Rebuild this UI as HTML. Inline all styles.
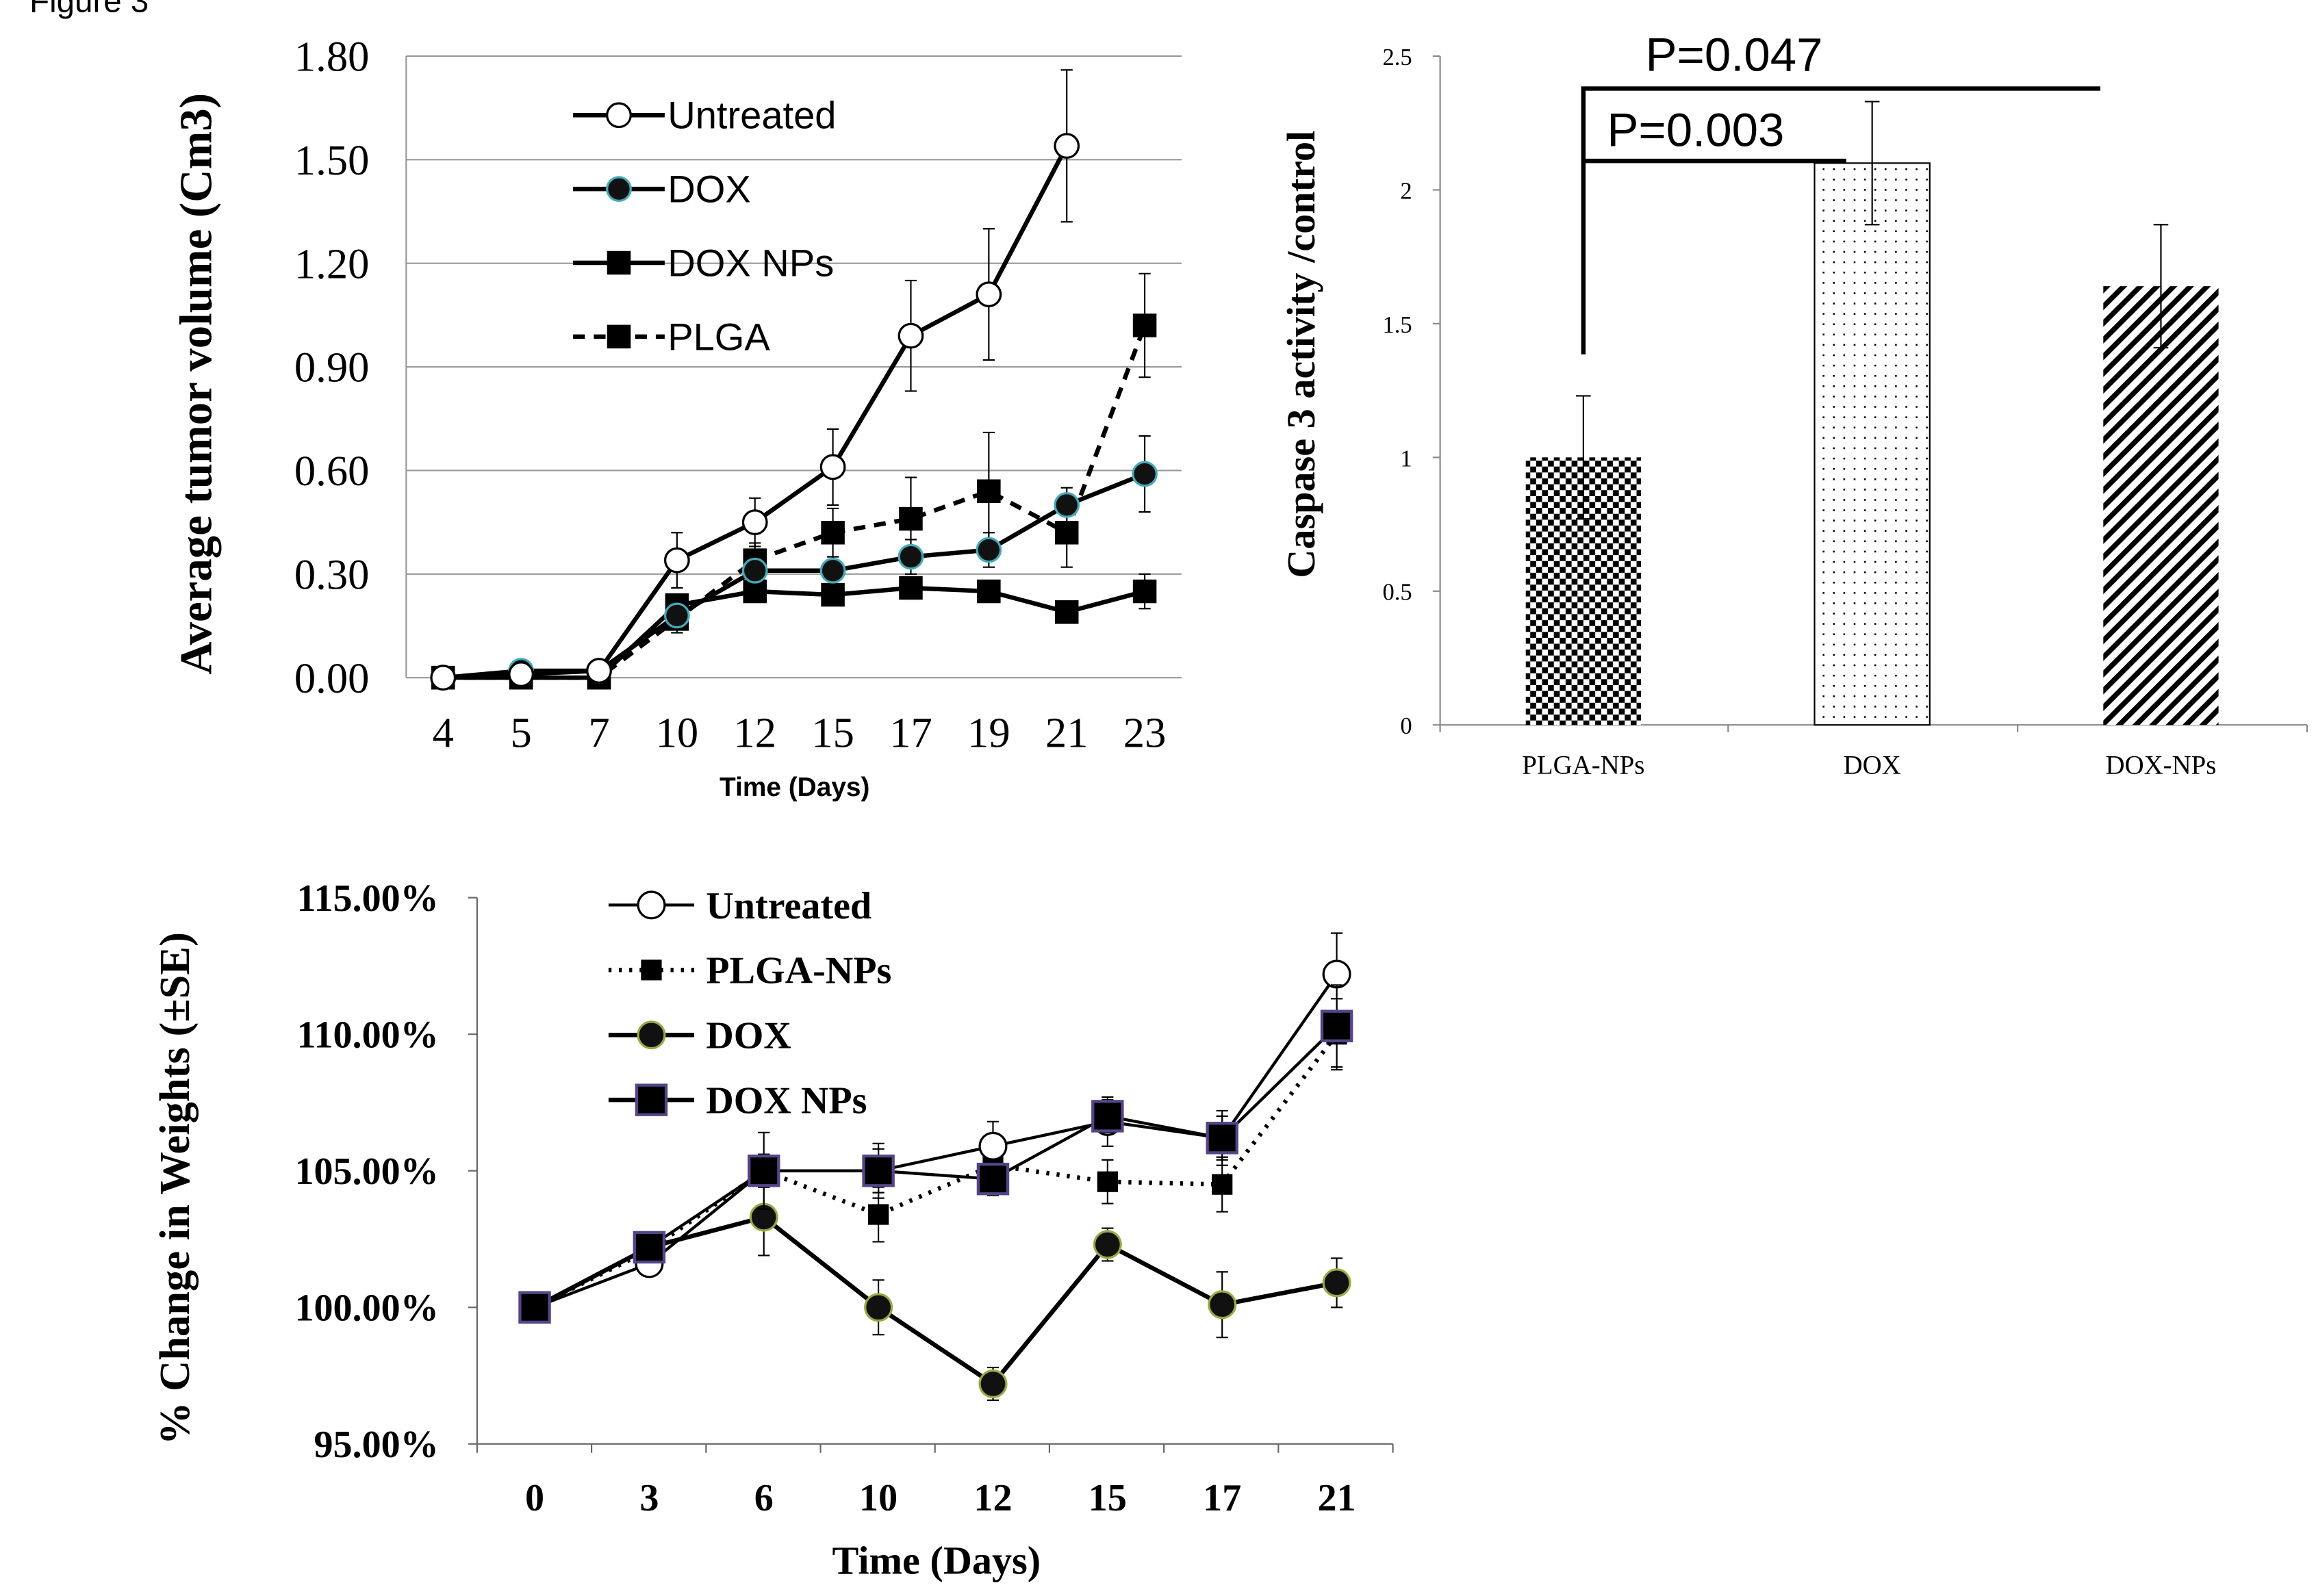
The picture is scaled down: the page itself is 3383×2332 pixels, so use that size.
<!DOCTYPE html>
<html><head><meta charset="utf-8"><style>html,body{margin:0;padding:0;background:#fff}svg{display:block}</style></head>
<body>
<svg id="fig" width="3383" height="2332" viewBox="0 0 1568 1081" preserveAspectRatio="none" xmlns="http://www.w3.org/2000/svg" font-family="Liberation Serif, serif">
<defs>
<pattern id="checker" width="8" height="8" patternUnits="userSpaceOnUse"><rect width="8" height="8" fill="#fff"/><rect width="4" height="4" fill="#000"/><rect x="4" y="4" width="4" height="4" fill="#000"/></pattern>
<pattern id="dots" width="7" height="7" patternUnits="userSpaceOnUse"><rect width="7" height="7" fill="#fff"/><rect x="2" y="2" width="1.2" height="1.2" fill="#000"/></pattern>
<pattern id="stripes" width="8" height="8" patternUnits="userSpaceOnUse" patternTransform="rotate(45)"><rect width="8" height="8" fill="#fff"/><rect width="3.5" height="8" fill="#000"/></pattern>
</defs>
<text x="20" y="8" font-family="Liberation Sans, sans-serif" font-size="22">Figure 3</text>
<g id="c1"></g>
<g id="c2"></g>
<g id="c3"></g>
</svg>
<script>
const NS="http://www.w3.org/2000/svg";
function mk(p,t,a,txt){const e=document.createElementNS(NS,t);for(const k in a)e.setAttribute(k,a[k]);if(txt!==undefined)e.textContent=txt;p.appendChild(e);return e;}

// ---- Chart 1 data
const days1=["4","5","7","10","12","15","17","19","21","23"];
const untreated1=[0,0.01,0.02,0.34,0.45,0.61,0.99,1.11,1.54,null];
const untreatedErr1=[0,0,0,0.08,0.07,0.11,0.16,0.19,0.22,0];
const dox1=[0,0.02,0.02,0.18,0.31,0.31,0.35,0.37,0.50,0.59];
const doxErr1=[0,0,0,0.03,0.05,0.04,0.05,0.05,0.05,0.11];
const doxnp1=[0,0,0,0.21,0.25,0.24,0.26,0.25,0.19,0.25];
const doxnpErr1=[0,0,0,0.02,0.02,0.02,0.02,0.02,0.02,0.05];
const plga1=[0,0,0,0.17,0.34,0.42,0.46,0.54,0.42,1.02];
const plgaErr1=[0,0,0,0.04,0.05,0.07,0.12,0.17,0.1,0.15];
const yTicks1=["0.00","0.30","0.60","0.90","1.20","1.50","1.80"];

// ---- Chart 2 data
const cats2=["PLGA-NPs","DOX","DOX-NPs"];
const vals2=[1.0,2.1,1.64];
const errs2=[0.23,0.23,0.23];
const yTicks2=["0","0.5","1","1.5","2","2.5"];

// ---- Chart 3 data
const days3=["0","3","6","10","12","15","17","21"];
const untreated3=[100,101.6,105,105,105.9,106.8,106.2,112.2];
const untreatedErr3=[0,0.3,0.6,0.8,0.9,0.9,0.8,1.5];
const plga3=[100,102.1,105,103.4,105.2,104.6,104.5,110];
const plgaErr3=[0,0.3,0.6,1.0,0.8,0.8,1.0,1.3];
const dox3=[100,102.2,103.3,100,97.2,102.3,100.1,100.9];
const doxErr3=[0,0.3,1.4,1.0,0.6,0.6,1.2,0.9];
const doxnp3=[100,102.2,105,105,104.7,107,106.2,110.3];
const doxnpErr3=[0,0.3,1.4,1.0,0.6,0.6,1.0,1.5];
const yTicks3=["95.00%","100.00%","105.00%","110.00%","115.00%"];

// ===== Chart 1
(function(){
const g=document.getElementById('c1');
const x0=275,x1=800,yb=459,yt=38;
const Y=v=>yb-(v/1.8)*(yb-yt);
const X=i=>300+i*(775-300)/9;
yTicks1.forEach(t=>{const v=+t;
 const l=mk(g,'line',{x1:x0,x2:x1,y1:Y(v),y2:Y(v),stroke:'#999','stroke-width':1});
 
 const tx=mk(g,'text',{x:250,y:Y(v)+10,'font-size':29,'text-anchor':'end'},t);
 });
mk(g,'line',{x1:x0,x2:x0,y1:yt,y2:yb,stroke:'#999'});
days1.forEach((d,i)=>{const t=mk(g,'text',{x:X(i),y:506,'font-size':29,'text-anchor':'middle'},d);
 });
const xt=mk(g,'text',{x:538,y:539,'font-size':18,'font-weight':'bold','text-anchor':'middle','font-family':'Liberation Sans, sans-serif'},'Time (Days)');

const yt2=mk(g,'text',{x:0,y:0,'font-size':31,'font-weight':'bold','text-anchor':'middle',transform:'translate(143,260) rotate(-90)'},'Average tumor volume (Cm3)');

function series(vals,errs,name,dash,marker){
 const s=mk(g,'g',{});
 vals.forEach((v,i)=>{if(v===null||!errs[i])return;
  mk(s,'line',{x1:X(i),x2:X(i),y1:Y(v-errs[i]),y2:Y(v+errs[i]),stroke:'#000','stroke-width':1});
  [v-errs[i],v+errs[i]].forEach(e=>mk(s,'line',{x1:X(i)-4,x2:X(i)+4,y1:Y(e),y2:Y(e),stroke:'#000'}));});
 const pts=vals.map((v,i)=>v===null?null:X(i)+','+Y(v)).filter(p=>p).join(' ');
 mk(s,'polyline',{points:pts,fill:'none',stroke:'#000','stroke-width':3,'stroke-dasharray':dash||'none'});
 vals.forEach((v,i)=>{if(v===null)return;const m=marker(s,X(i),Y(v));});
}
const circO=(s,x,y)=>mk(s,'circle',{cx:x,cy:y,r:8,fill:'#fff',stroke:'#000','stroke-width':1.5});
const circF=(s,x,y)=>mk(s,'circle',{cx:x,cy:y,r:8,fill:'#111',stroke:'#4ab','stroke-width':1.5});
const sq=(s,x,y)=>mk(s,'rect',{x:x-8,y:y-8,width:16,height:16,fill:'#000'});
series(plga1,plgaErr1,'plga-series','8,6',sq);
series(doxnp1,doxnpErr1,'dox-np-series',null,sq);
series(dox1,doxErr1,'dox-series',null,circF);
series(untreated1,untreatedErr1,'untreated-series',null,circO);
const leg=[['Untreated',null,circO],['DOX',null,circF],['DOX NPs',null,sq],['PLGA','8,6',sq]];
leg.forEach((l,i)=>{const y=78+i*50;const e=mk(g,'g',{});
 mk(e,'line',{x1:388,x2:450,y1:y,y2:y,stroke:'#000','stroke-width':3,'stroke-dasharray':l[1]||'none'});
 l[2](e,419,y);mk(e,'text',{x:452,y:y+9,'font-size':26,'font-family':'Liberation Sans, sans-serif'},l[0]);});
})();

// ===== Chart 2
(function(){
const g=document.getElementById('c2');
const yb=491,yt=38;const Y=v=>yb-(v/2.5)*(yb-yt);
const X=i=>1072+i*195.5;
mk(g,'line',{x1:975,x2:975,y1:yt,y2:yb,stroke:'#888'});
mk(g,'line',{x1:975,x2:1562,y1:yb,y2:yb,stroke:'#888'});
[975,1170,1366,1562].forEach(x=>mk(g,'line',{x1:x,x2:x,y1:yb,y2:yb+5,stroke:'#888'}));
yTicks2.forEach(t=>{mk(g,'line',{x1:970,x2:975,y1:Y(+t),y2:Y(+t),stroke:'#888'});
 const tx=mk(g,'text',{x:956,y:Y(+t)+6,'font-size':16,'text-anchor':'end'},t);
 });
const fills=['url(#checker)','url(#dots)','url(#stripes)'];
cats2.forEach((c,i)=>{const b=mk(g,'rect',{x:X(i)-39,y:Y(vals2[i]),width:78,height:yb-Y(vals2[i]),fill:fills[i],stroke:i==1?'#000':'none','stroke-width':1});
 
 const e=mk(g,'g',{});
 mk(e,'line',{x1:X(i),x2:X(i),y1:Y(vals2[i]-errs2[i]),y2:Y(vals2[i]+errs2[i]),stroke:'#000'});
 [vals2[i]-errs2[i],vals2[i]+errs2[i]].forEach(v=>mk(e,'line',{x1:X(i)-5,x2:X(i)+5,y1:Y(v),y2:Y(v),stroke:'#000'}));
 const t=mk(g,'text',{x:X(i),y:524,'font-size':18,'text-anchor':'middle'},c);
 });
const yt2=mk(g,'text',{x:0,y:0,'font-size':27,'font-weight':'bold','text-anchor':'middle',transform:'translate(890,240) rotate(-90)'},'Caspase 3 activity /control');

const br=mk(g,'g',{});
mk(br,'polyline',{points:'1072,240 1072,60 1422,60',fill:'none',stroke:'#000','stroke-width':3});
mk(br,'line',{x1:1072,x2:1250,y1:109,y2:109,stroke:'#000','stroke-width':3});
mk(br,'text',{x:1114,y:48,'font-size':32,'font-family':'Liberation Sans, sans-serif'},'P=0.047');
mk(br,'text',{x:1088,y:99,'font-size':32,'font-family':'Liberation Sans, sans-serif'},'P=0.003');
})();

// ===== Chart 3
(function(){
const g=document.getElementById('c3');
const yb=978,yt=608;const Y=v=>yb-((v-95)/20)*(yb-yt);
const X=i=>362+i*(905-362)/7;
mk(g,'line',{x1:323,x2:323,y1:yt,y2:yb,stroke:'#666'});
mk(g,'line',{x1:323,x2:943,y1:yb,y2:yb,stroke:'#666'});
yTicks3.forEach(t=>{const v=parseFloat(t);mk(g,'line',{x1:317,x2:323,y1:Y(v),y2:Y(v),stroke:'#666'});
 const tx=mk(g,'text',{x:297,y:Y(v)+9,'font-size':26,'font-weight':'bold','text-anchor':'end'},t);
 });
for(let i=0;i<=8;i++){const x=323+i*(943-323)/8;mk(g,'line',{x1:x,x2:x,y1:yb,y2:yb+6,stroke:'#666'});}
days3.forEach((d,i)=>{const t=mk(g,'text',{x:X(i),y:1023,'font-size':26,'font-weight':'bold','text-anchor':'middle'},d);
 });
const xt=mk(g,'text',{x:634,y:1066,'font-size':27,'font-weight':'bold','text-anchor':'middle'},'Time (Days)');

const yt2=mk(g,'text',{x:0,y:0,'font-size':29,'font-weight':'bold','text-anchor':'middle',transform:'translate(128,805) rotate(-90)'},'% Change in Weights (±SE)');

function series(vals,errs,name,dash,w,marker){
 const s=mk(g,'g',{});
 vals.forEach((v,i)=>{if(!errs[i])return;
  mk(s,'line',{x1:X(i),x2:X(i),y1:Y(v-errs[i]),y2:Y(v+errs[i]),stroke:'#000'});
  [v-errs[i],v+errs[i]].forEach(e=>mk(s,'line',{x1:X(i)-4,x2:X(i)+4,y1:Y(e),y2:Y(e),stroke:'#000'}));});
 mk(s,'polyline',{points:vals.map((v,i)=>X(i)+','+Y(v)).join(' '),fill:'none',stroke:'#000','stroke-width':w,'stroke-dasharray':dash||'none'});
 vals.forEach((v,i)=>{const m=marker(s,X(i),Y(v));});
}
const circO=(s,x,y)=>mk(s,'circle',{cx:x,cy:y,r:9,fill:'#fff',stroke:'#000','stroke-width':1.5});
const circF=(s,x,y)=>mk(s,'circle',{cx:x,cy:y,r:9,fill:'#111',stroke:'#9a4','stroke-width':1.5});
const sqS=(s,x,y)=>mk(s,'rect',{x:x-7,y:y-7,width:14,height:14,fill:'#000'});
const sqB=(s,x,y)=>mk(s,'rect',{x:x-10,y:y-10,width:20,height:20,fill:'#000',stroke:'#548','stroke-width':2});
series(dox3,doxErr3,'dox-series',null,3,circF);
series(plga3,plgaErr3,'plga-np-series','2,5',3,sqS);
series(untreated3,untreatedErr3,'untreated-series',null,2,circO);
series(doxnp3,doxnpErr3,'dox-np-series',null,2,sqB);
const leg=[['Untreated',null,2,circO],['PLGA-NPs','2,5',3,sqS],['DOX',null,3,circF],['DOX NPs',null,3,sqB]];
leg.forEach((l,i)=>{const y=613+i*44;const e=mk(g,'g',{});
 mk(e,'line',{x1:412,x2:470,y1:y,y2:y,stroke:'#000','stroke-width':l[2],'stroke-dasharray':l[1]||'none'});
 l[3](e,441,y);mk(e,'text',{x:478,y:y+9,'font-size':26,'font-weight':'bold'},l[0]);});
})();
</script>
</body></html>
